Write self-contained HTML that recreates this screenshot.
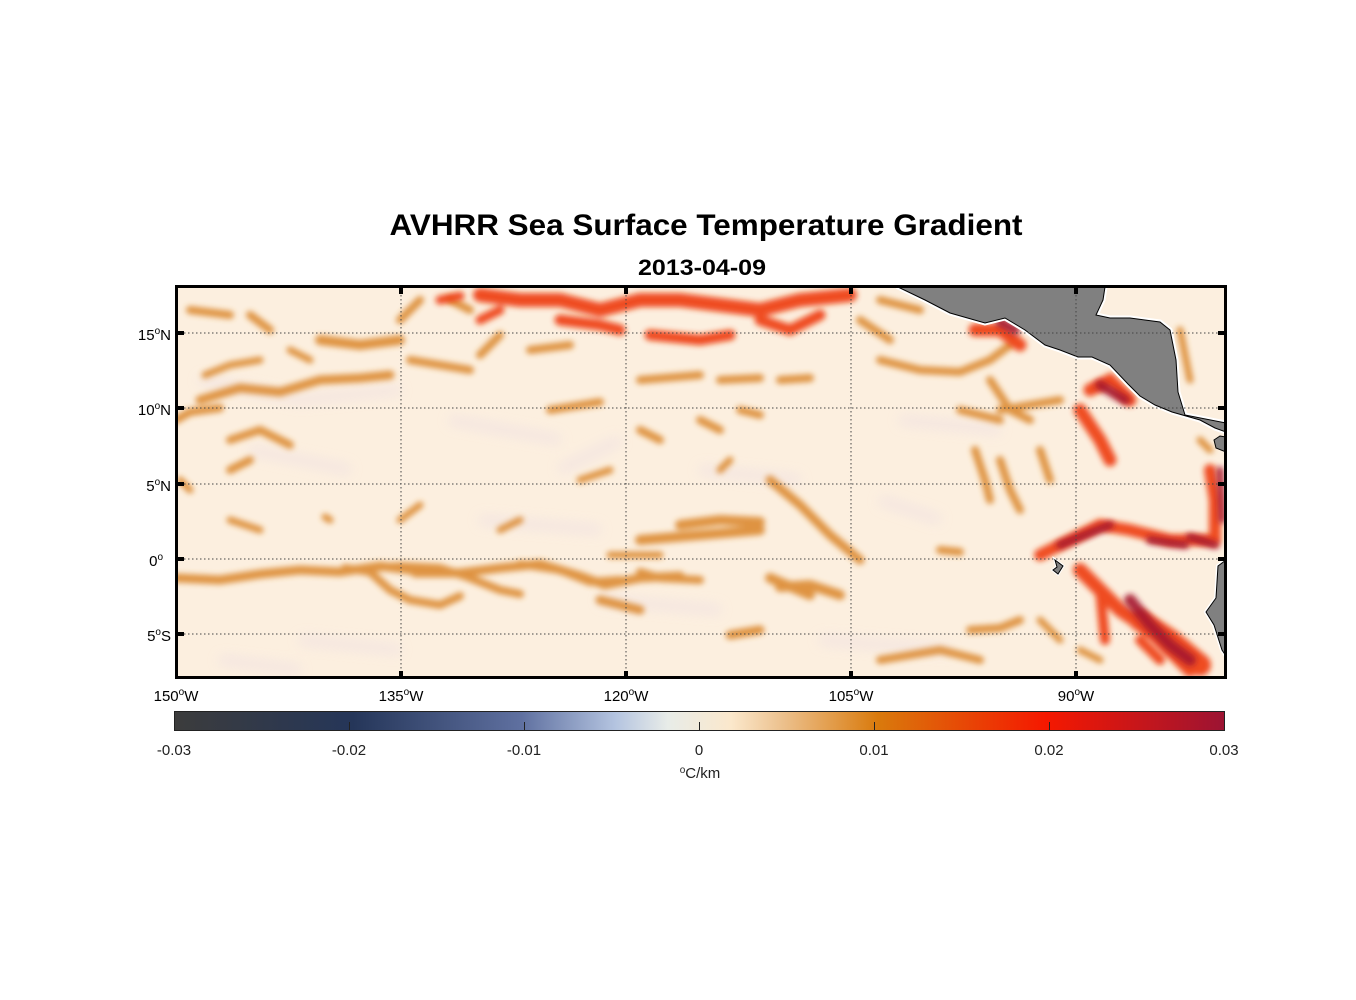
<!DOCTYPE html>
<html><head><meta charset="utf-8"><style>
body{margin:0;background:#fff;}
svg{display:block;font-family:"Liberation Sans",Arial,sans-serif;}
</style></head><body>
<svg width="1356" height="1000" viewBox="0 0 1356 1000">
<defs>
<filter id="b" x="-20%" y="-50%" width="140%" height="200%"><feGaussianBlur stdDeviation="3"/></filter>
<filter id="b2" x="-20%" y="-50%" width="140%" height="200%"><feGaussianBlur stdDeviation="6"/></filter>
<clipPath id="c"><rect x="176" y="287" width="1050" height="391"/></clipPath>
<linearGradient id="cb" x1="0" x2="1">
<stop offset="0" stop-color="#3c3c3c"/>
<stop offset="0.17" stop-color="#253659"/>
<stop offset="0.33" stop-color="#5f70a0"/>
<stop offset="0.42" stop-color="#b4c4e0"/>
<stop offset="0.47" stop-color="#e8ece8"/>
<stop offset="0.53" stop-color="#fbe8cc"/>
<stop offset="0.58" stop-color="#ecc08c"/>
<stop offset="0.67" stop-color="#d97a0c"/>
<stop offset="0.83" stop-color="#f51800"/>
<stop offset="1" stop-color="#9c1433"/>
</linearGradient>
</defs>
<text x="706" y="235" text-anchor="middle" font-size="30" font-weight="bold" textLength="633" lengthAdjust="spacingAndGlyphs">AVHRR Sea Surface Temperature Gradient</text>
<text x="702" y="275" text-anchor="middle" font-size="22" font-weight="bold" textLength="128" lengthAdjust="spacingAndGlyphs">2013-04-09</text>
<g clip-path="url(#c)">
<rect x="176" y="287" width="1050" height="391" fill="#fcefdf"/>
<g fill="none" stroke="#efe0e2" stroke-width="8" filter="url(#b2)" opacity="0.8">
<path d="M200 380 L300 400 L400 390 M250 450 L350 470 M450 420 L560 440 M700 470 L800 480 M600 600 L720 610 M300 640 L400 650 M900 420 L1000 430 M820 640 L950 650 M480 520 L600 530 M560 470 L620 440 M880 500 L940 520 M220 660 L300 670"/>
</g>
<g fill="none" stroke="#dc8a30" stroke-linecap="round" filter="url(#b)" opacity="0.9">
<path stroke-width="9" d="M176 578 L220 580 L260 574 L300 570 L340 572 L380 566 L410 570"/>
<path stroke-width="8" d="M345 570 L400 566 L440 568 L470 578 L500 590 L520 594"/>
<path stroke-width="8" d="M345 568 L370 572 L390 590 L410 600 L440 605 L460 596"/>
<path stroke-width="9" d="M415 573 L460 573 L500 568 L540 564 L580 576 L605 585 L640 578 L680 576"/>
<path stroke-width="8" d="M520 564 L560 570 L590 582 L620 580 M640 572 L660 578 L700 580"/>
<path stroke-width="10" d="M780 587 L810 585 L840 595 M770 578 L810 595"/>
<path stroke-width="10" d="M680 525 L720 520 L760 522 M640 540 L700 535 L760 530"/>
<path stroke-width="9" d="M770 480 L800 505 L830 535 L860 560"/>
<path stroke-width="7" d="M610 555 L660 555"/>
<path stroke-width="9" d="M200 400 L240 388 L280 392 L320 380 L360 378 L390 375"/>
<path stroke-width="7" d="M205 375 L230 365 L260 360 M290 350 L310 360"/>
<path stroke-width="8" d="M176 420 L190 412 L220 408 M230 440 L260 430 L290 445 M250 460 L230 470"/>
<path stroke-width="7" d="M325 517 L330 520 M230 520 L260 530 M400 520 L420 505 M180 480 L190 490"/>
<path stroke-width="10" d="M320 340 L360 345 L400 340"/>
<path stroke-width="8" d="M190 310 L230 315 M250 315 L270 330 M400 320 L420 300 M450 300 L470 310"/>
<path stroke-width="8" d="M410 360 L440 365 L470 370 M480 355 L500 335 M530 350 L570 345"/>
<path stroke-width="8" d="M550 410 L600 402 M640 430 L660 440 M700 420 L720 430 M740 410 L760 415"/>
<path stroke-width="8" d="M640 380 L700 375 M720 380 L760 378 M780 380 L810 378"/>
<path stroke-width="7" d="M580 480 L610 470 M720 470 L730 460 M500 530 L520 520"/>
<path stroke-width="9" d="M730 635 L760 630 M600 600 L640 610"/>
<path stroke-width="8" d="M940 550 L960 552 M970 630 L1000 628 L1020 620 M880 660 L940 650 L980 660"/>
<path stroke-width="8" d="M960 410 L1000 420 M880 360 L920 370 L960 372 L990 360 L1010 345"/>
<path stroke-width="8" d="M975 450 L985 480 L990 500 M1000 460 L1010 490 L1020 510 M1040 450 L1050 480"/>
<path stroke-width="8" d="M990 380 L1010 410 L1030 420 M1000 410 L1060 400"/>
<path stroke-width="8" d="M880 300 L920 310 M860 320 L890 340"/>
<path stroke-width="7" d="M1080 650 L1100 660 M1040 620 L1060 640"/>
<path stroke-width="7" d="M1180 330 L1190 380 M1200 440 L1210 450"/>
</g>
<g fill="none" stroke="#ee3a08" stroke-linecap="round" filter="url(#b)" opacity="0.9">
<path stroke-width="14" d="M480 295 L520 300 L560 300 L600 310 L640 300 L680 300 L720 305 L760 310 L800 300 L850 295"/>
<path stroke-width="11" d="M560 320 L600 325 L620 330 M650 335 L700 340 L730 335 M760 320 L790 330 L820 315"/>
<path stroke-width="9" d="M480 320 L500 310 M440 300 L460 296"/>
<path stroke-width="13" d="M1090 390 L1110 380 L1130 400 M1080 410 L1100 440 L1110 460"/>
<path stroke-width="13" d="M975 330 L1000 330 L1020 345"/>
<path stroke-width="12" d="M1040 555 L1070 540 L1100 525 L1130 530 L1170 540 L1210 540"/>
<path stroke-width="14" d="M1080 570 L1100 590 L1120 610 L1150 630 L1170 650 L1190 670"/>
<path stroke-width="12" d="M1210 470 L1215 500 L1215 540"/>
<path stroke-width="10" d="M1100 590 L1105 640 M1140 640 L1160 660"/>
<path stroke-width="22" d="M1140 620 L1170 640 L1200 665"/>
</g>
<g fill="none" stroke="#a5182f" stroke-linecap="round" filter="url(#b)" opacity="0.9">
<path stroke-width="8" d="M1060 545 L1085 535 L1110 525"/>
<path stroke-width="8" d="M1150 540 L1185 545 M1190 537 L1215 545"/>
<path stroke-width="12" d="M1130 600 L1150 625 L1170 645 L1190 660"/>
<path stroke-width="10" d="M1000 322 L1015 330 M1100 385 L1125 400"/>
<path stroke-width="7" d="M1220 470 L1222 520"/>
</g>
<path d="M898 287 L925 300 L950 313 L985 323 L1005 318 L1025 330 L1045 345 L1060 350 L1078 357 L1092 357 L1110 365 L1128 384 L1140 396 L1155 405 L1172 412 L1200 420 L1215 428 L1226 432 L1226 423 L1185 415 L1178 392 L1176 360 L1170 330 L1160 322 L1130 318 L1110 318 L1096 315 L1103 300 L1105 287 Z" fill="#808080" stroke="#fff" stroke-width="5" stroke-linejoin="round"/>
<path d="M898 287 L925 300 L950 313 L985 323 L1005 318 L1025 330 L1045 345 L1060 350 L1078 357 L1092 357 L1110 365 L1128 384 L1140 396 L1155 405 L1172 412 L1200 420 L1215 428 L1226 432 L1226 423 L1185 415 L1178 392 L1176 360 L1170 330 L1160 322 L1130 318 L1110 318 L1096 315 L1103 300 L1105 287 Z" fill="#808080" stroke="#000" stroke-width="1"/>
<path d="M1214 440 L1220 436 L1226 437 L1226 452 L1216 448 Z" fill="#808080" stroke="#000" stroke-width="1"/>
<path d="M1226 560 L1218 566 L1216 598 L1206 612 L1214 625 L1222 650 L1226 656 Z" fill="#808080" stroke="#fff" stroke-width="4"/>
<path d="M1226 560 L1218 566 L1216 598 L1206 612 L1214 625 L1222 650 L1226 656 Z" fill="#808080" stroke="#000" stroke-width="1"/>
<path d="M1055 560 L1063 566 L1058 574 L1053 570 L1057 567 Z" fill="#808080" stroke="#fff" stroke-width="3"/>
<path d="M1055 560 L1063 566 L1058 574 L1053 570 L1057 567 Z" fill="#808080" stroke="#000" stroke-width="1"/>
</g>
<g stroke="#444" stroke-width="1" stroke-dasharray="1.5,2.5">
<line x1="401" y1="287" x2="401" y2="678"/><line x1="626" y1="287" x2="626" y2="678"/>
<line x1="851" y1="287" x2="851" y2="678"/><line x1="1076" y1="287" x2="1076" y2="678"/>
<line x1="176" y1="333" x2="1226" y2="333"/><line x1="176" y1="408" x2="1226" y2="408"/>
<line x1="176" y1="484" x2="1226" y2="484"/><line x1="176" y1="559" x2="1226" y2="559"/>
<line x1="176" y1="634" x2="1226" y2="634"/>
</g>
<rect x="176.5" y="286.5" width="1049" height="391" fill="none" stroke="#000" stroke-width="3"/>
<g stroke="#000" stroke-width="4">
<path d="M401 287v7M626 287v7M851 287v7M1076 287v7M401 678v-7M626 678v-7M851 678v-7M1076 678v-7"/>
<path d="M176 333h8M176 408h8M176 484h8M176 559h8M176 634h8M1226 333h-8M1226 408h-8M1226 484h-8M1226 559h-8M1226 634h-8"/>
</g>
<g font-size="15" text-anchor="end">
<text x="171" y="340">15<tspan font-size="10" dy="-6">o</tspan><tspan dy="6">N</tspan></text>
<text x="171" y="415">10<tspan font-size="10" dy="-6">o</tspan><tspan dy="6">N</tspan></text>
<text x="171" y="491">5<tspan font-size="10" dy="-6">o</tspan><tspan dy="6">N</tspan></text>
<text x="163" y="566">0<tspan font-size="10" dy="-6">o</tspan></text>
<text x="171" y="641">5<tspan font-size="10" dy="-6">o</tspan><tspan dy="6">S</tspan></text>
</g>
<g font-size="15" text-anchor="middle">
<text x="176" y="701">150<tspan font-size="10" dy="-6">o</tspan><tspan dy="6">W</tspan></text>
<text x="401" y="701">135<tspan font-size="10" dy="-6">o</tspan><tspan dy="6">W</tspan></text>
<text x="626" y="701">120<tspan font-size="10" dy="-6">o</tspan><tspan dy="6">W</tspan></text>
<text x="851" y="701">105<tspan font-size="10" dy="-6">o</tspan><tspan dy="6">W</tspan></text>
<text x="1076" y="701">90<tspan font-size="10" dy="-6">o</tspan><tspan dy="6">W</tspan></text>
</g>
<rect x="174.5" y="711.5" width="1050" height="19" fill="url(#cb)" stroke="#222" stroke-width="1"/>
<g stroke="#222" stroke-width="1">
<path d="M349.5 730v-8M524.5 730v-8M699.5 730v-8M874.5 730v-8M1049.5 730v-8"/>
</g>
<g font-size="15" text-anchor="middle" fill="#222">
<text x="174" y="755">-0.03</text><text x="349" y="755">-0.02</text><text x="524" y="755">-0.01</text>
<text x="699" y="755">0</text><text x="874" y="755">0.01</text><text x="1049" y="755">0.02</text><text x="1224" y="755">0.03</text>
<text x="700" y="778"><tspan font-size="10" dy="-5">o</tspan><tspan dy="5">C/km</tspan></text>
</g>
</svg>
</body></html>
